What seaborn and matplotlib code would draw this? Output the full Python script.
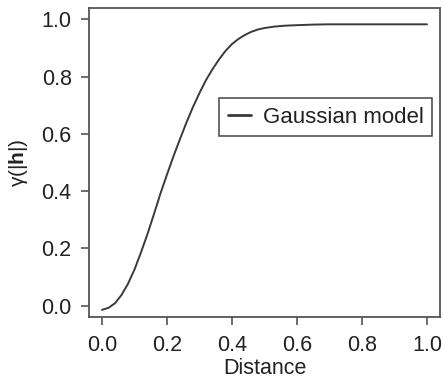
import matplotlib
matplotlib.use("Agg")
import matplotlib.pyplot as plt
import seaborn as sns
import pandas as pd

# Semivariogram of a fitted Gaussian model
distance = [0.00, 0.02, 0.04, 0.06, 0.08, 0.10, 0.12, 0.14, 0.16, 0.18,
            0.20, 0.22, 0.24, 0.26, 0.28, 0.30, 0.32, 0.34, 0.36, 0.38,
            0.40, 0.42, 0.44, 0.46, 0.48, 0.50, 0.53, 0.56, 0.60, 0.65,
            0.70, 0.80, 0.90, 1.00]
gamma = [-0.015, -0.008, 0.008, 0.037, 0.076, 0.126, 0.186, 0.250, 0.320, 0.392,
         0.458, 0.522, 0.582, 0.640, 0.694, 0.743, 0.788, 0.826, 0.860, 0.890,
         0.914, 0.932, 0.946, 0.957, 0.965, 0.970, 0.975, 0.978, 0.980, 0.982,
         0.983, 0.983, 0.983, 0.983]
model_name = "Gaussian model"
x_ticks = [0.0, 0.2, 0.4, 0.6, 0.8, 1.0]
y_ticks = [0.0, 0.2, 0.4, 0.6, 0.8, 1.0]

df = pd.DataFrame({"Distance": distance, "gamma": gamma, "model": model_name})

sns.set_style("ticks")
plt.rcParams["font.family"] = ["Liberation Sans", "DejaVu Sans"]
plt.rcParams["mathtext.fontset"] = "custom"
plt.rcParams["mathtext.rm"] = "Liberation Sans"
plt.rcParams["mathtext.it"] = "Liberation Sans"
plt.rcParams["mathtext.bf"] = "Liberation Sans:bold"

ink = "#222222"
frame = "#555555"

fig = plt.figure(figsize=(4.43, 3.81), dpi=100)
ax = fig.add_axes([0.2009, 0.168, 0.7923, 0.811])

sns.lineplot(data=df, x="Distance", y="gamma", hue="model",
             palette={model_name: "#3a3a3a"}, linewidth=1.4, ax=ax)

ax.set_xlim(-0.04, 1.04)
ax.set_ylim(-0.04, 1.04)
ax.set_xticks(x_ticks)
ax.set_yticks(y_ticks)
ax.set_xticklabels([f"{t:.1f}" for t in x_ticks])
ax.set_yticklabels([f"{t:.1f}" for t in y_ticks])

for side in ["left", "right", "top", "bottom"]:
    ax.spines[side].set_visible(True)
    ax.spines[side].set_color(frame)
    ax.spines[side].set_linewidth(1.3)

ax.tick_params(axis="both", direction="out", length=6, width=1.2,
               color=frame, labelsize=15.5, labelcolor=ink)
ax.tick_params(axis="x", pad=7)
ax.tick_params(axis="y", pad=6.5)

ax.set_xlabel("Distance", fontsize=15.5, color=ink, labelpad=1.5)
ax.set_ylabel(r"$\mathrm{\gamma(|}\mathbf{h}\mathrm{|)}$", fontsize=15,
              color=ink, labelpad=8)

leg = ax.legend(loc="upper right", bbox_to_anchor=(0.978, 0.708),
                borderaxespad=0, fontsize=16, frameon=True, fancybox=False,
                handlelength=1.04, handletextpad=0.54, borderpad=0.38,
                edgecolor="#444444", framealpha=1)
leg.get_frame().set_linewidth(1.1)
for t in leg.get_texts():
    t.set_color(ink)
for h in leg.get_lines():
    h.set_linewidth(2.0)

fig.savefig("out.png", dpi=100)
